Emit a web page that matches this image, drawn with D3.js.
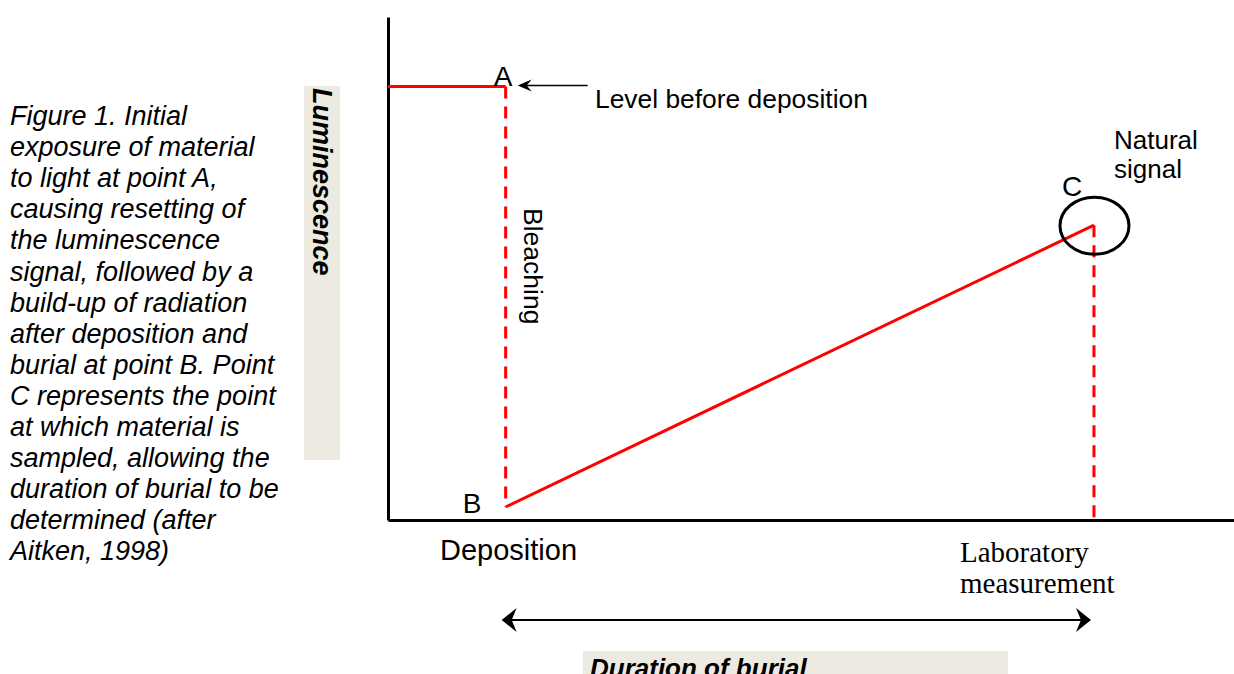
<!DOCTYPE html>
<html>
<head>
<meta charset="utf-8">
<script src="https://cdn.jsdelivr.net/npm/d3@7"></script>
<style>
  body { margin: 0; background: #fff; }
  svg { display: block; }
  text { font-family: 'Liberation Sans', Arial, sans-serif; fill: #000; }
</style>
</head>
<body>
<div id="chart"></div>
<script>
// time: 0 = deposition, 100 = laboratory measurement; luminescence: 100 = level before deposition
var preTime = [-20, 0]
var preLum = [100, 100]
var bleachTime = [0, 0]
var bleachLum = [100, 3]
var buildTime = [0, 100]
var buildLum = [3, 68]
var sampleTime = [100, 100]
var sampleLum = [68, 0]
var pointNames = ['A', 'B', 'C']
var caption = ['Figure 1. Initial', 'exposure of material', 'to light at point A,',
  'causing resetting of', 'the luminescence', 'signal, followed by a',
  'build-up of radiation', 'after deposition and', 'burial at point B. Point',
  'C represents the point', 'at which material is', 'sampled, allowing the',
  'duration of burial to be', 'determined (after', 'Aitken, 1998)']

var width = 1234
var height = 674

var svg = d3.select('#chart')
  .append('svg')
  .attr('width', width)
  .attr('height', height)

var x = d3.scaleLinear()
  .domain([-20, 123.8])
  .range([388, 1234])

var y = d3.scaleLinear()
  .domain([0, 116])
  .range([520, 17])

// caption on the left
var cap = svg.append('text')
  .attr('x', 10)
  .attr('y', 125)
  .style('font-size', '27px')
  .style('font-style', 'italic')
caption.forEach(function (line, i) {
  cap.append('tspan')
    .attr('x', 10)
    .attr('dy', i === 0 ? 0 : 31.1)
    .text(line)
})

// y axis title box
svg.append('rect')
  .attr('x', 304)
  .attr('y', 86)
  .attr('width', 36)
  .attr('height', 374)
  .attr('fill', '#edeae1')
svg.append('text')
  .attr('transform', 'translate(313,88) rotate(90)')
  .style('font-size', '27px')
  .style('font-weight', 'bold')
  .style('font-style', 'italic')
  .text('Luminescence')

// axes, no ticks
svg.append('g')
  .attr('transform', 'translate(0,' + y(0) + ')')
  .call(d3.axisBottom(x).ticks(0).tickSizeOuter(0))
  .call(function (g) { g.select('.domain').attr('stroke-width', 3) })
svg.append('g')
  .attr('transform', 'translate(' + x(-20) + ',0)')
  .call(d3.axisLeft(y).ticks(0).tickSizeOuter(0))
  .call(function (g) { g.select('.domain').attr('stroke-width', 3) })

var line = d3.line()
  .x(function (d) { return x(d[0]) })
  .y(function (d) { return y(d[1]) })

function seg (ts, ls) {
  return d3.zip(ts, ls)
}

svg.append('path')
  .attr('d', line(seg(preTime, preLum)))
  .attr('fill', 'none')
  .attr('stroke', '#ff0000')
  .attr('stroke-width', 3)

svg.append('path')
  .attr('d', line(seg(bleachTime, bleachLum)))
  .attr('fill', 'none')
  .attr('stroke', '#ff0000')
  .attr('stroke-width', 3)
  .attr('stroke-dasharray', '12,8')

svg.append('path')
  .attr('d', line(seg(buildTime, buildLum)))
  .attr('fill', 'none')
  .attr('stroke', '#ff0000')
  .attr('stroke-width', 3)

svg.append('path')
  .attr('d', line(seg(sampleTime, sampleLum)))
  .attr('fill', 'none')
  .attr('stroke', '#ff0000')
  .attr('stroke-width', 3)
  .attr('stroke-dasharray', '12,8')

// ellipse around C
svg.append('ellipse')
  .attr('cx', x(sampleTime[0]) + 0.5)
  .attr('cy', y(buildLum[1]) + 0.5)
  .attr('rx', 34.5)
  .attr('ry', 28.5)
  .attr('fill', 'none')
  .attr('stroke', '#000')
  .attr('stroke-width', 3)

// point labels
var pts = [
  [preTime[1], preLum[1]],
  [buildTime[0], buildLum[0]],
  [buildTime[1], buildLum[1]]
]
var offs = [[-12, 0], [-43, 6], [-32, -29]]
svg.selectAll('.ptlabel')
  .data(pointNames)
  .enter()
  .append('text')
  .attr('class', 'ptlabel')
  .attr('x', function (d, i) { return x(pts[i][0]) + offs[i][0] })
  .attr('y', function (d, i) { return y(pts[i][1]) + offs[i][1] })
  .style('font-size', '28px')
  .text(function (d) { return d })

function arrowHead (tipX, tipY, dir, len, half, notch) {
  return 'M' + tipX + ',' + tipY +
    'L' + (tipX - dir * len) + ',' + (tipY - half) +
    'L' + (tipX - dir * notch) + ',' + tipY +
    'L' + (tipX - dir * len) + ',' + (tipY + half) + 'Z'
}

// "Level before deposition" pointer
var ax = x(0) + 12
var ay = y(100) - 1
svg.append('line')
  .attr('x1', ax + 6).attr('y1', ay)
  .attr('x2', ax + 70).attr('y2', ay)
  .attr('stroke', '#000').attr('stroke-width', 1.5)
svg.append('path')
  .attr('d', arrowHead(ax, ay, -1, 14, 6, 9))
  .attr('fill', '#000')
svg.append('text')
  .attr('x', 595)
  .attr('y', 108)
  .style('font-size', '26.4px')
  .text('Level before deposition')

svg.append('text')
  .attr('x', 1114)
  .attr('y', 149)
  .style('font-size', '26px')
  .text('Natural')
svg.append('text')
  .attr('x', 1114)
  .attr('y', 178)
  .style('font-size', '26px')
  .text('signal')

svg.append('text')
  .attr('transform', 'translate(' + (x(0) + 18) + ',208) rotate(90)')
  .style('font-size', '26.5px')
  .text('Bleaching')

svg.append('text')
  .attr('x', 440)
  .attr('y', 560)
  .style('font-size', '29px')
  .text('Deposition')

svg.append('text')
  .attr('x', 960)
  .attr('y', 562)
  .style('font-family', "'Liberation Serif', 'Times New Roman', serif")
  .style('font-size', '29px')
  .text('Laboratory')
svg.append('text')
  .attr('x', 960)
  .attr('y', 593)
  .style('font-family', "'Liberation Serif', 'Times New Roman', serif")
  .style('font-size', '29px')
  .text('measurement')

// duration of burial double arrow
var dl = x(0) - 4
var dr = x(100) - 3
var dy = 620
svg.append('line')
  .attr('x1', dl + 8).attr('y1', dy)
  .attr('x2', dr - 8).attr('y2', dy)
  .attr('stroke', '#000').attr('stroke-width', 2)
svg.append('path')
  .attr('d', arrowHead(dl, dy, -1, 15, 12, 10))
  .attr('fill', '#000')
svg.append('path')
  .attr('d', arrowHead(dr, dy, 1, 15, 12, 10))
  .attr('fill', '#000')

svg.append('rect')
  .attr('x', 583)
  .attr('y', 651)
  .attr('width', 425)
  .attr('height', 30)
  .attr('fill', '#edeae1')
svg.append('text')
  .attr('x', 590)
  .attr('y', 677)
  .style('font-size', '26px')
  .style('font-weight', 'bold')
  .style('font-style', 'italic')
  .text('Duration of burial')
</script>
</body>
</html>
